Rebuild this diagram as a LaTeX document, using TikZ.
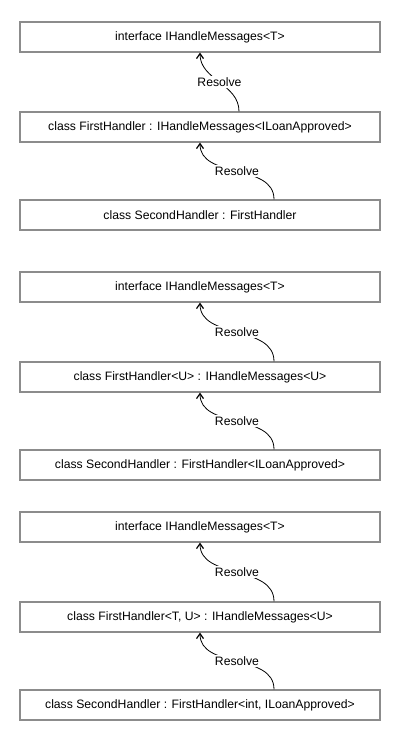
\documentclass[tikz,border=0pt]{standalone}
\usepackage{fontspec}
\setmainfont{Liberation Sans}
\usetikzlibrary{arrows.meta}
\definecolor{boxgray}{RGB}{140,140,140}
\begin{document}
\begin{tikzpicture}[x=1pt,y=-1pt,
  font=\fontsize{12.2}{14}\selectfont,
  typebox/.style={draw=boxgray, line width=1.2pt, minimum width=360pt,
    minimum height=30pt, inner sep=0pt, fill=white},
  resolve/.style={black, line width=0.8pt,
    -{Straight Barb[length=5pt,width=7pt,line width=1.2pt]}},
  lbl/.style={fill=white, inner sep=2pt}]
\useasboundingbox (0,0) rectangle (400,750);

% first variant: plain base class
\node[typebox] (a1) at (200,37)  {interface IHandleMessages<T>};
\node[typebox] (a2) at (200,127) {class FirstHandler : IHandleMessages<ILoanApproved>};
\node[typebox] (a3) at (200,215) {class SecondHandler : FirstHandler};
\draw[resolve] ([xshift=39pt]a2.north) to[out=90,in=-90] node[lbl] {Resolve} (a1.south);
\draw[resolve] ([xshift=74pt]a3.north) to[out=90,in=-90] node[lbl] {Resolve} (a2.south);

% second variant: one generic parameter
\node[typebox] (b1) at (200,287) {interface IHandleMessages<T>};
\node[typebox] (b2) at (200,377) {class FirstHandler<U> : IHandleMessages<U>};
\node[typebox] (b3) at (200,465) {class SecondHandler : FirstHandler<ILoanApproved>};
\draw[resolve] ([xshift=74pt]b2.north) to[out=90,in=-90] node[lbl] {Resolve} (b1.south);
\draw[resolve] ([xshift=74pt]b3.north) to[out=90,in=-90] node[lbl] {Resolve} (b2.south);

% third variant: two generic parameters
\node[typebox] (c1) at (200,527) {interface IHandleMessages<T>};
\node[typebox] (c2) at (200,617) {class FirstHandler<T, U> : IHandleMessages<U>};
\node[typebox] (c3) at (200,705) {class SecondHandler : FirstHandler<int, ILoanApproved>};
\draw[resolve] ([xshift=74pt]c2.north) to[out=90,in=-90] node[lbl] {Resolve} (c1.south);
\draw[resolve] ([xshift=74pt]c3.north) to[out=90,in=-90] node[lbl] {Resolve} (c2.south);
\end{tikzpicture}
\end{document}
